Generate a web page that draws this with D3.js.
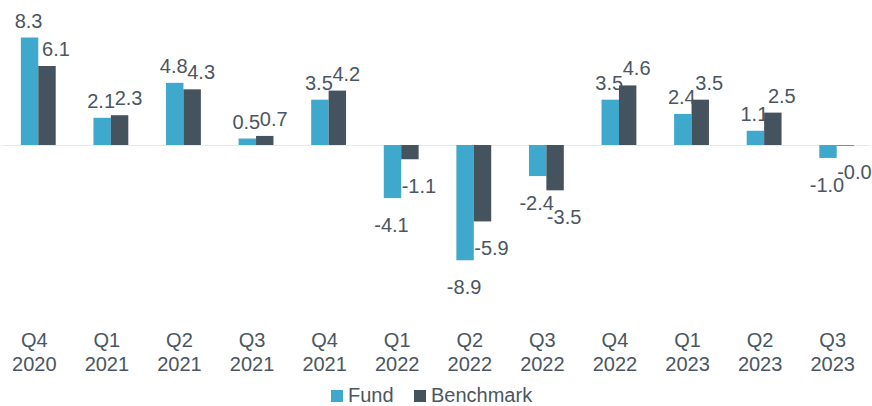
<!DOCTYPE html>
<html><head><meta charset="utf-8">
<script src="https://cdn.jsdelivr.net/npm/d3@7"></script>
<style>body{margin:0;background:#fff}svg{display:block}text{font-family:"Liberation Sans",Arial,sans-serif}</style>
</head><body><svg id="c" width="872" height="406"></svg>
<script>
const quarters = ["Q4","Q1","Q2","Q3","Q4","Q1","Q2","Q3","Q4","Q1","Q2","Q3"];
const years = ["2020","2021","2021","2021","2021","2022","2022","2022","2022","2023","2023","2023"];
const fund = [8.3, 2.1, 4.8, 0.5, 3.5, -4.1, -8.9, -2.4, 3.5, 2.4, 1.1, -1.0];
const benchmark = [6.1, 2.3, 4.3, 0.7, 4.2, -1.1, -5.9, -3.5, 4.6, 3.5, 2.5, -0.03];
const seriesNames = ["Fund", "Benchmark"];
const colors = ["#3fa8cd", "#44535e"];
const textColor = "#4a5661";

const svg = d3.select("#c");
const cats = quarters.map((q,i)=>q+" "+years[i]);
const x = d3.scaleBand().domain(cats).range([2, 873]).paddingInner(0.52).paddingOuter(0.26);
const xs = d3.scaleBand().domain(seriesNames).range([0, x.bandwidth()]);
const y = d3.scaleLinear().domain([-10, 10]).range([145 + 129.5, 145 - 129.5]);

svg.append("line").attr("x1", 2).attr("x2", 870).attr("y1", y(0)+0.5).attr("y2", y(0)+0.5)
  .attr("stroke", "#e9e9e9").attr("stroke-width", 1);

const series = [fund, benchmark];
const labelShift = [-1, 9];
series.forEach((vals, si) => {
  const g = svg.append("g");
  g.selectAll("rect").data(vals).join("rect")
    .attr("x", (d,i)=>x(cats[i]) + xs(seriesNames[si]))
    .attr("width", xs.bandwidth())
    .attr("y", d=>Math.min(y(d), y(0)))
    .attr("height", d=>Math.max(Math.abs(y(d)-y(0)), 0.6))
    .attr("fill", colors[si]);
  g.selectAll("text").data(vals).join("text")
    .attr("x", (d,i)=>x(cats[i]) + xs(seriesNames[si]) + xs.bandwidth()/2 + labelShift[si])
    .attr("y", d=> d >= 0 ? y(d) - 10 : y(d) + 34)
    .attr("text-anchor", "middle")
    .attr("font-size", 20)
    .attr("fill", textColor)
    .text(d=>d.toFixed(1));
});

const xl = svg.append("g");
cats.forEach((c,i)=>{
  const cx = x(c) + x.bandwidth()/2 - 4;
  const t = xl.append("text").attr("x", cx).attr("text-anchor","middle").attr("font-size",20).attr("fill",textColor);
  t.append("tspan").attr("x", cx).attr("y", 347).text(quarters[i]);
  t.append("tspan").attr("x", cx).attr("y", 371).text(years[i]);
});

const leg = svg.append("g");
const legX = [331, 414];
seriesNames.forEach((n,i)=>{
  leg.append("rect").attr("x", legX[i]).attr("y", 390).attr("width", 12).attr("height", 12).attr("fill", colors[i]);
  leg.append("text").attr("x", legX[i]+17).attr("y", 401.5).attr("font-size", 20).attr("fill", textColor).text(n);
});
</script></body></html>
